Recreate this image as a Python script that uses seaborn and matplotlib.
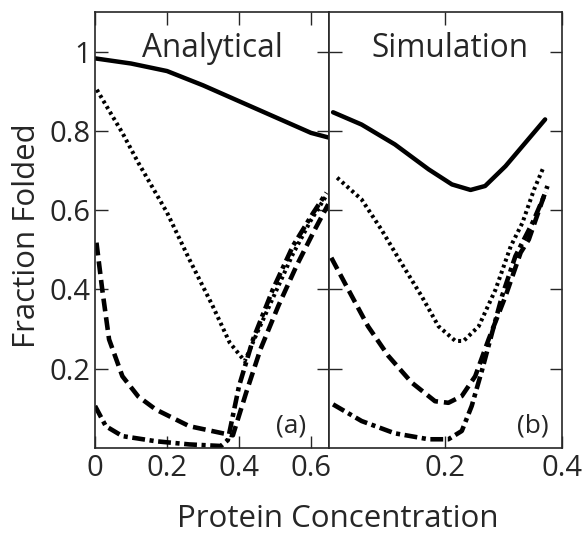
import pandas as pd
import seaborn as sns
import matplotlib
matplotlib.use("Agg")
import matplotlib.pyplot as plt

# Analytical panel (a)
a_solid_x = [0.0, 0.1, 0.2, 0.3, 0.4, 0.5, 0.6, 0.65]
a_solid_y = [0.983, 0.97, 0.951, 0.915, 0.875, 0.835, 0.795, 0.783]

a_dot_x = [0.005, 0.04, 0.076, 0.12, 0.2, 0.262, 0.327, 0.374, 0.416, 0.45, 0.5, 0.55, 0.6, 0.645]
a_dot_y = [0.904, 0.85, 0.795, 0.72, 0.594, 0.476, 0.358, 0.266, 0.219, 0.29, 0.39, 0.49, 0.575, 0.64]

a_dash_x = [0.004, 0.02, 0.039, 0.076, 0.12, 0.169, 0.262, 0.355, 0.383, 0.42, 0.46, 0.51, 0.56, 0.61, 0.648]
a_dash_y = [0.518, 0.40, 0.274, 0.181, 0.13, 0.097, 0.055, 0.037, 0.032, 0.14, 0.25, 0.36, 0.46, 0.55, 0.615]

a_dd_x = [0.0, 0.03, 0.076, 0.169, 0.262, 0.35, 0.369, 0.40, 0.439, 0.494, 0.55, 0.606, 0.643]
a_dd_y = [0.106, 0.055, 0.03, 0.017, 0.009, 0.005, 0.02, 0.156, 0.274, 0.40, 0.51, 0.593, 0.644]

# Simulation panel (b)
s_solid_x = [0.007, 0.056, 0.113, 0.171, 0.211, 0.243, 0.268, 0.303, 0.337, 0.371]
s_solid_y = [0.847, 0.816, 0.766, 0.703, 0.665, 0.651, 0.661, 0.711, 0.77, 0.829]

s_dot_x = [0.014, 0.056, 0.09, 0.124, 0.159, 0.188, 0.217, 0.231, 0.257, 0.286, 0.312, 0.332, 0.352, 0.369]
s_dot_y = [0.682, 0.627, 0.551, 0.467, 0.383, 0.307, 0.27, 0.27, 0.307, 0.40, 0.509, 0.568, 0.652, 0.711]

s_dash_x = [0.004, 0.033, 0.067, 0.102, 0.142, 0.182, 0.205, 0.228, 0.251, 0.274, 0.303, 0.329, 0.343, 0.375]
s_dash_y = [0.48, 0.40, 0.307, 0.232, 0.165, 0.118, 0.114, 0.131, 0.181, 0.274, 0.383, 0.493, 0.526, 0.661]

s_dd_x = [0.007, 0.056, 0.113, 0.171, 0.205, 0.228, 0.245, 0.263, 0.28, 0.297, 0.32, 0.35, 0.372]
s_dd_y = [0.11, 0.068, 0.037, 0.022, 0.022, 0.043, 0.106, 0.198, 0.291, 0.383, 0.484, 0.57, 0.645]

y_ticks = [0.2, 0.4, 0.6, 0.8, 1.0]
y_tick_labels = ["0.2", "0.4", "0.6", "0.8", "1"]

sns.set_style("ticks")
plt.rcParams['font.family'] = ['Open Sans', 'DejaVu Sans']

fig = plt.figure(figsize=(5.83, 5.33), dpi=100)
ax_a = fig.add_axes([0.163, 0.1595, 0.4013, 0.818])
ax_b = fig.add_axes([0.5643, 0.1595, 0.3997, 0.818])

styles = {
    "solid": dict(linestyle="-", linewidth=3.2),
    "dot": dict(linestyle=(0, (0.75, 0.85)), linewidth=2.9),
    "dash": dict(linestyle=(0, (2.8, 1.3)), linewidth=3.3),
    "dd": dict(linestyle=(0, (2.8, 1.0, 0.9, 1.0)), linewidth=3.3),
}

panel_a = [(a_solid_x, a_solid_y, "solid"), (a_dot_x, a_dot_y, "dot"),
           (a_dash_x, a_dash_y, "dash"), (a_dd_x, a_dd_y, "dd")]
panel_b = [(s_solid_x, s_solid_y, "solid"), (s_dot_x, s_dot_y, "dot"),
           (s_dash_x, s_dash_y, "dash"), (s_dd_x, s_dd_y, "dd")]

for ax, curves in [(ax_a, panel_a), (ax_b, panel_b)]:
    for xs, ys, st in curves:
        df = pd.DataFrame({"x": xs, "y": ys})
        sns.lineplot(data=df, x="x", y="y", ax=ax, color="black", sort=False,
                     dash_capstyle="butt", solid_joinstyle="round", **styles[st])
    ax.set_ylim(0, 1.1)
    ax.set_xlabel("")
    ax.set_ylabel("")
    ax.tick_params(direction="in", length=9, width=1, top=True, right=True,
                   labelsize=21)
    ax.tick_params(axis="x", pad=4)
    ax.tick_params(axis="y", pad=3)
    for sp in ax.spines.values():
        sp.set_linewidth(1.2)
        sp.set_visible(True)

ax_a.set_xlim(0, 0.65)
ax_a.set_xticks([0, 0.2, 0.4, 0.6])
ax_a.set_xticklabels(["0", "0.2", "0.4", "0.6"])
ax_a.set_yticks(y_ticks)
ax_a.set_yticklabels(y_tick_labels)

ax_b.set_xlim(0, 0.4)
ax_b.set_xticks([0.2, 0.4])
ax_b.set_xticklabels(["0.2", "0.4"])
ax_b.set_yticks(y_ticks)
ax_b.tick_params(labelleft=False)

ax_a.text(0.502, 0.897, "Analytical", transform=ax_a.transAxes, ha="center", va="baseline", fontsize=22.7)
ax_b.text(0.521, 0.897, "Simulation", transform=ax_b.transAxes, ha="center", va="baseline", fontsize=22.7)
ax_a.text(0.84, 0.035, "(a)", transform=ax_a.transAxes, ha="center", va="baseline", fontsize=19)
ax_b.text(0.876, 0.035, "(b)", transform=ax_b.transAxes, ha="center", va="baseline", fontsize=19)

fig.text(0.58, 0.011, "Protein Concentration", ha="center", va="baseline", fontsize=22.5)
fig.text(0.021, 0.557, "Fraction Folded", ha="left", va="center", rotation=90, fontsize=22.5)

fig.savefig("out.png", dpi=100)
